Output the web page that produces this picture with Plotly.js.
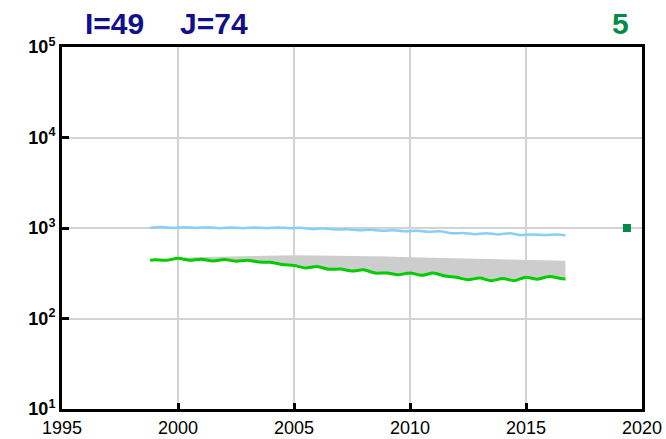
<!DOCTYPE html>
<html>
<head>
<meta charset="utf-8">
<script src="https://cdn.plot.ly/plotly-3.0.1.min.js"></script>
<style>html,body{margin:0;padding:0;background:#fff;}#chart{width:666px;height:439px;}.modebar-container,.modebar{display:none !important;}</style>
</head>
<body>
<div id="chart"></div>
<script>
// Blue series
const blueYears = [1998.8,1999.3,1999.8,2000.3,2000.8,2001.3,2001.8,2002.3,2002.8,2003.3,2003.8,2004.3,2004.8,2005.3,2005.8,2006.3,2006.8,2007.3,2007.8,2008.3,2008.8,2009.3,2009.8,2010.3,2010.8,2011.3,2011.8,2012.3,2012.8,2013.3,2013.8,2014.3,2014.8,2015.3,2015.8,2016.3,2016.7];
const blueVals  = [1000,1025,1000,1020,1000,1020,995,1015,995,1015,995,1015,995,1005,975,985,960,970,945,955,935,945,920,935,910,920,875,880,855,875,850,875,835,850,835,850,832];

// Green series
const greenYears = [1998.8,1999.0,1999.5,2000.0,2000.5,2001.0,2001.5,2002.0,2002.5,2003.0,2003.5,2004.0,2004.5,2005.0,2005.5,2006.0,2006.5,2007.0,2007.5,2008.0,2008.5,2009.0,2009.5,2010.0,2010.5,2011.0,2011.5,2012.0,2012.5,2013.0,2013.5,2014.0,2014.5,2015.0,2015.5,2016.0,2016.5,2016.7];
const greenVals  = [440,446,440,462,440,452,432,448,430,440,420,418,395,385,362,375,350,352,335,345,318,318,305,318,300,318,295,285,268,280,262,276,262,286,272,292,276,273];

// Gray band upper edge
const bandYears = [1998.8,1999.0,1999.5,2000.0,2001.0,2002.0,2003.0,2004.0,2005.0,2006.0,2007.0,2008.0,2009.0,2010.0,2011.0,2012.0,2013.0,2014.0,2015.0,2016.0,2016.7];
const bandVals  = [440,446,455,470,478,485,495,500,500,498,495,490,485,475,470,462,455,450,447,440,435];

// Single marker
const markYears = [2019.35];
const markVals  = [1000];

const yTickVals = [10,100,1000,10000,100000];
const yTickText = ['10<sup>1</sup>','10<sup>2</sup>','10<sup>3</sup>','10<sup>4</sup>','10<sup>5</sup>'];

const traces = [
  {x: bandYears, y: bandVals, mode:'lines', line:{width:0, color:'rgba(0,0,0,0)'}, showlegend:false, hoverinfo:'skip'},
  {x: greenYears, y: greenVals, mode:'lines', fill:'tonexty', fillcolor:'rgb(205,205,205)',
   line:{color:'rgb(0,204,0)', width:3, shape:'spline', smoothing:0.8}, showlegend:false},
  {x: blueYears, y: blueVals, mode:'lines', line:{color:'rgb(135,206,250)', width:2.5, shape:'spline', smoothing:0.8}, showlegend:false},
  {x: markYears, y: markVals, mode:'markers', marker:{symbol:'square', size:8, color:'rgb(0,140,70)'}, showlegend:false}
];

const layout = {
  width:666, height:439,
  margin:{l:62, r:24, t:47, b:30, pad:0},
  paper_bgcolor:'#fff', plot_bgcolor:'#fff',
  xaxis:{
    range:[1995,2020], dtick:5,
    ticks:'inside', ticklen:6, tickwidth:3, tickcolor:'#000',
    showline:true, linecolor:'#000', linewidth:3, mirror:true,
    showgrid:true, gridcolor:'rgb(211,211,211)', gridwidth:2, zeroline:false,
    tickfont:{family:'Arial, "Liberation Sans", sans-serif', size:18, color:'#000'}
  },
  yaxis:{
    type:'log', range:[1,5], tickvals:yTickVals, ticktext:yTickText,
    ticks:'inside', ticklen:7, tickwidth:3, tickcolor:'#000',
    showline:true, linecolor:'#000', linewidth:3, mirror:true,
    showgrid:true, gridcolor:'rgb(211,211,211)', gridwidth:2, zeroline:false,
    tickfont:{family:'Arial, "Liberation Sans", sans-serif', size:18, color:'#000', weight:'bold'}
  },
  annotations:[
    {text:'<b>I=49</b>', xref:'paper', yref:'paper', x:(83-62)/580, y:1+(47-24)/362, xanchor:'left', yanchor:'middle', showarrow:false,
     font:{family:'Arial, "Liberation Sans", sans-serif', size:30, color:'rgb(16,16,140)'}},
    {text:'<b>J=74</b>', xref:'paper', yref:'paper', x:(178-62)/580, y:1+(47-24)/362, xanchor:'left', yanchor:'middle', showarrow:false,
     font:{family:'Arial, "Liberation Sans", sans-serif', size:30, color:'rgb(16,16,140)'}},
    {text:'<b>5</b>', xref:'paper', yref:'paper', x:(631-62)/580, y:1+(47-24)/362, xanchor:'right', yanchor:'middle', showarrow:false,
     font:{family:'Arial, "Liberation Sans", sans-serif', size:30, color:'rgb(0,140,70)'}}
  ]
};

Plotly.newPlot('chart', traces, layout);
</script>
</body>
</html>
